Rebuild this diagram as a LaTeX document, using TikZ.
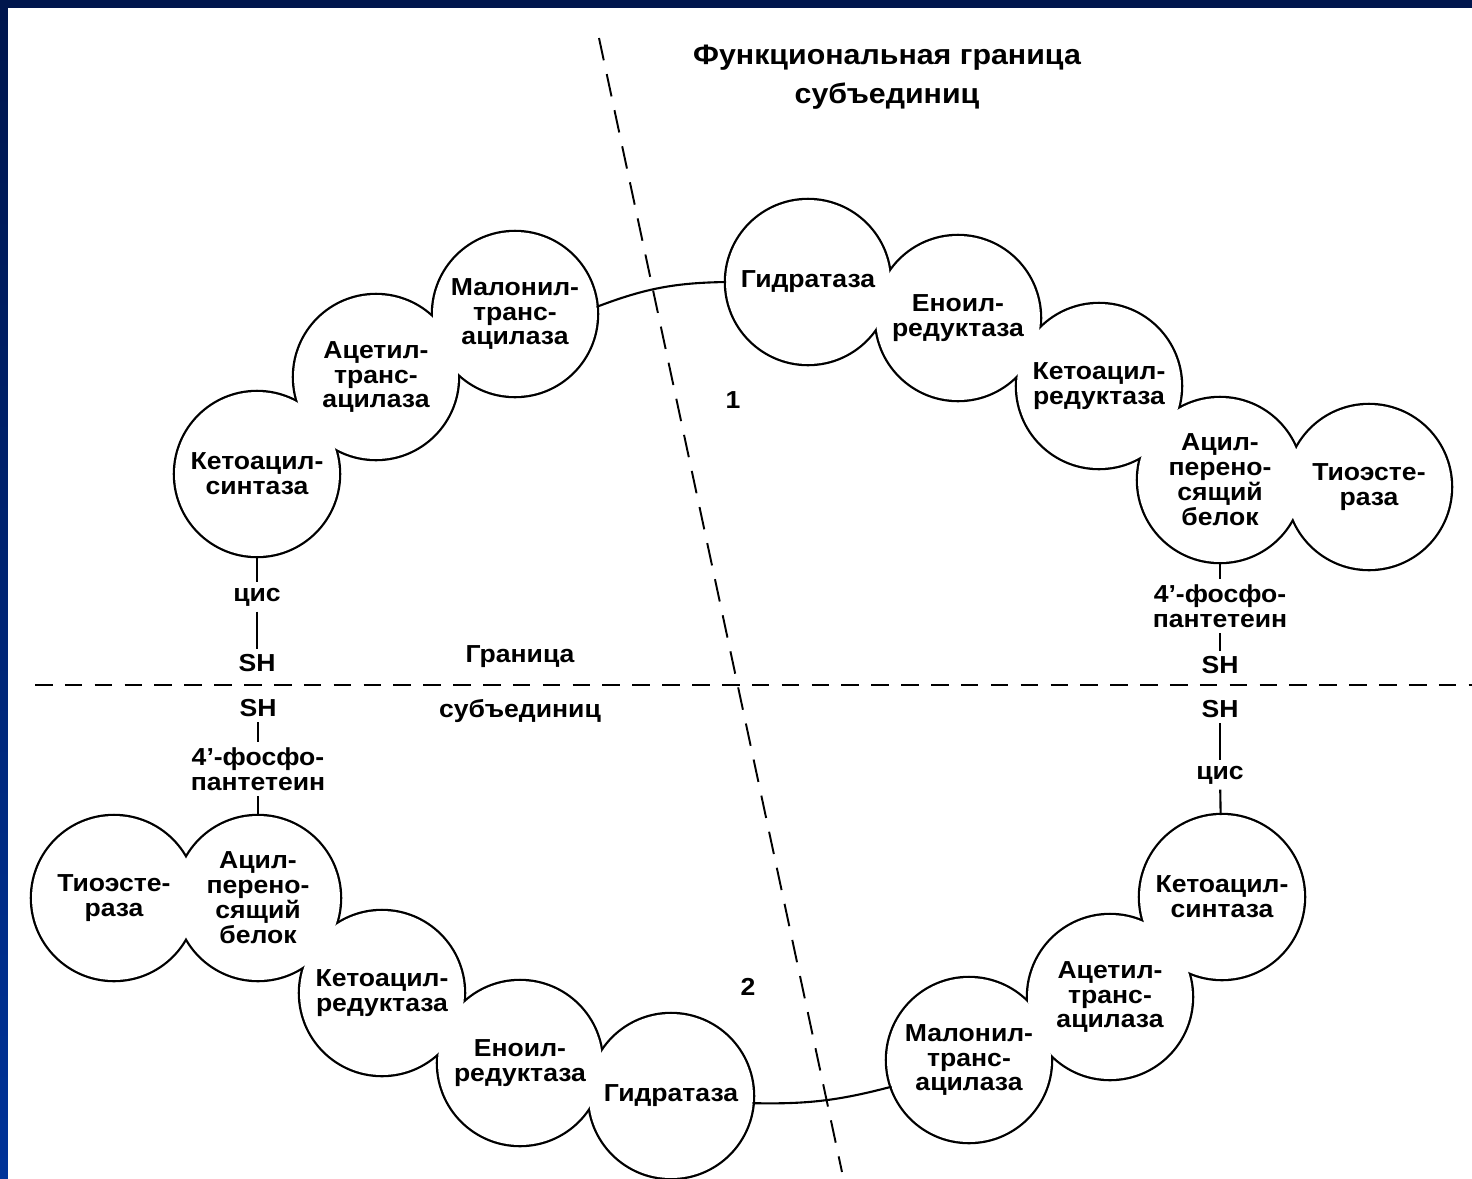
\documentclass[tikz,border=0pt]{standalone}
\usepackage{fontspec}
\usepackage{tikz}
\usetikzlibrary{positioning, backgrounds, calc}
\newfontfamily\labfont{Liberation Sans}[FakeStretch=1.08]
\definecolor{FrameTop}{RGB}{0,22,77}
\definecolor{FrameBottom}{RGB}{0,51,153}

\begin{document}
\begin{tikzpicture}[
  x=0.02cm, y=-0.02cm,
  font=\labfont\bfseries\fontsize{14}{14.2}\selectfont,
  enzyme/.style={circle, minimum size=3.28cm, inner sep=0pt,
                 outer sep=0pt, align=center},
  chem/.style={inner sep=3pt, align=center},
  link/.style={line width=1.2pt},
  border/.style={line width=1.5pt, dash pattern=on 10pt off 7pt},
  funcborder/.style={line width=1.1pt, dash pattern=on 13pt off 8pt}
]
\useasboundingbox (0,0) rectangle (1472,1178);

% subunit 1
\node[enzyme] (ks1)  at (257,474)  {Кетоацил-\\синтаза};
\node[enzyme] (at1)  at (376,377)  {Ацетил-\\транс-\\ацилаза};
\node[enzyme] (mt1)  at (515,314)  {Малонил-\\транс-\\ацилаза};
\node[enzyme] (hd1)  at (808,282)  {Гидратаза};
\node[enzyme] (er1)  at (958,318)  {Еноил-\\редуктаза};
\node[enzyme] (kr1)  at (1099,386) {Кетоацил-\\редуктаза};
\node[enzyme] (acp1) at (1220,480) {Ацил-\\перено-\\сящий\\белок};
\node[enzyme] (te1)  at (1369,487) {Тиоэсте-\\раза};

% subunit 2
\node[enzyme] (te2)  at (114,898)  {Тиоэсте-\\раза};
\node[enzyme] (acp2) at (258,898)  {Ацил-\\перено-\\сящий\\белок};
\node[enzyme] (kr2)  at (382,993)  {Кетоацил-\\редуктаза};
\node[enzyme] (er2)  at (520,1063) {Еноил-\\редуктаза};
\node[enzyme] (hd2)  at (671,1096) {Гидратаза};
\node[enzyme] (mt2)  at (969,1060) {Малонил-\\транс-\\ацилаза};
\node[enzyme] (at2)  at (1110,997) {Ацетил-\\транс-\\ацилаза};
\node[enzyme] (ks2)  at (1222,897) {Кетоацил-\\синтаза};

% SH groups
\node[chem] (cis1)  at (257,597)  {цис};
\node[chem] (sh1a)  at (257,663)  {SH};
\node[chem] (sh2a)  at (258,708)  {SH};
\node[chem] (phos2) at (258,769)  {4’-фосфо-\\пантетеин};
\node[chem] (phos1) at (1220,606) {4’-фосфо-\\пантетеин};
\node[chem] (sh1b)  at (1220,665) {SH};
\node[chem] (sh2b)  at (1220,709) {SH};
\node[chem] (cis2)  at (1220,775) {цис};

\node[chem] (bnd1) at (520,657) {Граница};
\node[chem] (bnd2) at (520,711) {субъединиц};
\node[chem] (num1) at (733,400) {1};
\node[chem] (num2) at (748,987) {2};
\node[chem, font=\labfont\bfseries\fontsize{16}{22}\selectfont]
    (title) at (887,77) {Функциональная граница\\субъединиц};

\draw[link] (ks1) -- (cis1);
\draw[link] (cis1) -- (sh1a);
\draw[link] (sh2a) -- (phos2);
\draw[link] (phos2) -- (acp2);
\draw[link] (acp1) -- (phos1);
\draw[link] (phos1) -- (sh1b);
\draw[link] (sh2b) -- (cis2);
\draw[link] (cis2) -- (ks2);
\draw[link] (mt1.5) to[bend left=10] (hd1.west);
\draw[link] (hd2.-5) to[bend right=8] (mt2.199);

\begin{scope}[on background layer]
  \fill[top color=FrameTop, bottom color=FrameBottom] (0,0) rectangle (1472,1178);
  \fill[white] (8,8) rectangle (1490,1195);
  \draw[border] (35,685) -- (1472,685);
  \draw[funcborder] (599,38) -- (842,1172);
  \foreach \e in {ks1,at1,mt1,hd1,er1,kr1,acp1,te1,te2,acp2,kr2,er2,hd2,mt2,at2,ks2}
    \draw[line width=2.6pt] (\e.center) circle[radius=1.64cm];
  \foreach \e in {ks1,at1,mt1,hd1,er1,kr1,acp1,te1,te2,acp2,kr2,er2,hd2,mt2,at2,ks2}
    \fill[white] (\e.center) circle[radius=1.64cm];
\end{scope}
\end{tikzpicture}
\end{document}
